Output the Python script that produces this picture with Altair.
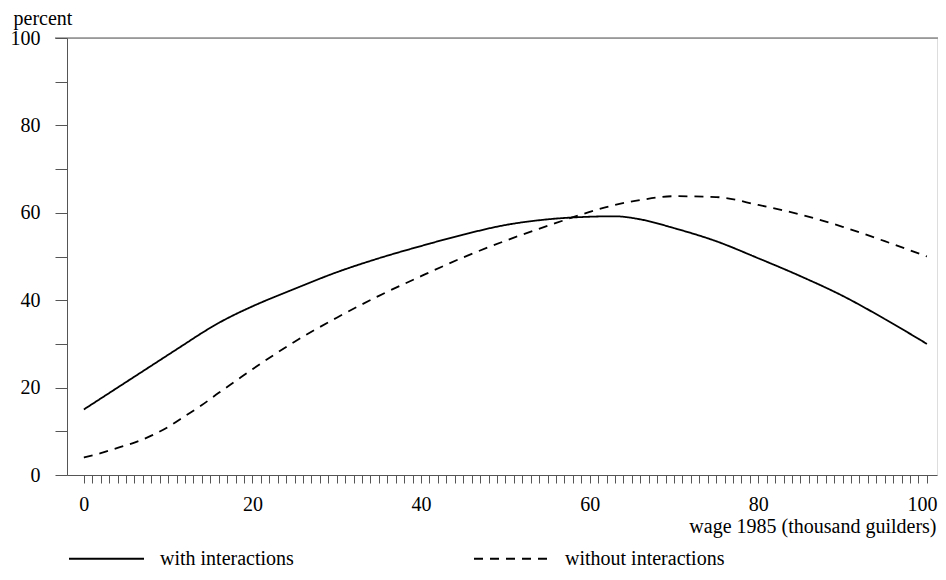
import altair as alt
import pandas as pd

wage = [0, 2, 4, 6, 8, 10, 12, 14, 16, 18, 20, 25, 30, 35, 40, 45, 50, 55, 60, 63, 66, 70, 75, 80, 85, 90, 95, 100]
with_inter = [15, 17.5, 20, 22.5, 25, 27.5, 30, 32.5, 34.8, 36.8, 38.6, 42.6, 46.4, 49.6, 52.4, 55, 57.2, 58.5, 59.1, 59.2, 58.5, 56.5, 53.5, 49.6, 45.5, 41, 35.7, 30]
without_inter = [4, 5, 6.2, 7.4, 9, 11, 13.5, 16, 18.8, 21.5, 24.2, 30.5, 36, 41, 45.5, 49.8, 53.6, 57, 60.2, 61.8, 62.9, 63.8, 63.6, 61.8, 59.6, 56.8, 53.5, 50]
series_names = ["with interactions", "without interactions"]
x_ticks = list(range(0, 101))
y_ticks = list(range(0, 101, 10))

rows = []
for name, vals in zip(series_names, [with_inter, without_inter]):
    for x, y in zip(wage, vals):
        rows.append({"wage": x, "percent": y, "series": name})
df = pd.DataFrame(rows)

FONT = "Liberation Serif"
FS = 20
W = 870

xscale = alt.Scale(domain=[-2, 101.2], nice=False, zero=False)
yscale = alt.Scale(domain=[0, 100], nice=False)

lines = alt.Chart(df).mark_line(color="black", strokeWidth=1.8, interpolate="monotone").encode(
    x=alt.X("wage:Q", scale=xscale,
            axis=alt.Axis(values=x_ticks, tickSize=8, labelExpr="datum.value % 20 === 0 ? datum.label : ''",
                          labelPadding=11, grid=False, domainColor="#555", tickColor="#555",
                          labelFont=FONT, labelFontSize=FS, labelColor="black", labelFlush=False,
                          labelOverlap=False,
                          labelOffset={"condition": {"test": "datum.value === 100", "value": -5}, "value": 0},
                          title="wage 1985 (thousand guilders)", titleFont=FONT, titleFontSize=FS,
                          titleFontWeight="normal", titleColor="black", titleAnchor="end",
                          titleAlign="right", titleX=869, titleY=51, titleBaseline="middle")),
    y=alt.Y("percent:Q", scale=yscale,
            axis=alt.Axis(values=y_ticks, tickSize=12, grid=False, domainColor="#555", tickColor="#555",
                          labelExpr="datum.value % 20 === 0 ? datum.label : ''",
                          labelPadding=15, labelFont=FONT, labelFontSize=FS, labelColor="black",
                          labelFlush=False, labelOverlap=False,
                          title="percent", titleFont=FONT, titleFontSize=FS, titleFontWeight="normal",
                          titleColor="black", titleAngle=0, titleAlign="left", titleX=-54, titleY=-14,
                          titleBaseline="alphabetic")),
    strokeDash=alt.StrokeDash("series:N",
                              scale=alt.Scale(domain=series_names, range=[[1, 0], [9, 7]]),
                              legend=alt.Legend(title=None, orient="none", legendX=1, legendY=482,
                                                direction="horizontal", symbolType="stroke",
                                                symbolSize=5625, symbolStrokeWidth=2,
                                                symbolStrokeColor="black", labelFont=FONT,
                                                labelFontSize=FS, labelColor="black", labelOffset=15,
                                                columnPadding=176, padding=0, labelLimit=400)),
)

top_rule = alt.Chart(pd.DataFrame({"v": [100]})).mark_rule(color="#555", strokeWidth=1).encode(
    y=alt.Y("v:Q", scale=yscale),
    x=alt.value(-12),
    x2=alt.value(W + 1),
)

chart = alt.layer(lines, top_rule).properties(
    width=W, height=437,
    autosize=alt.AutoSizeParams(type="none"),
    padding={"left": 59, "top": 30, "right": 1, "bottom": 96},
).configure_view(stroke=None).configure(background="white")

chart.save("out.html", embed_options={"renderer": "svg", "actions": False})
